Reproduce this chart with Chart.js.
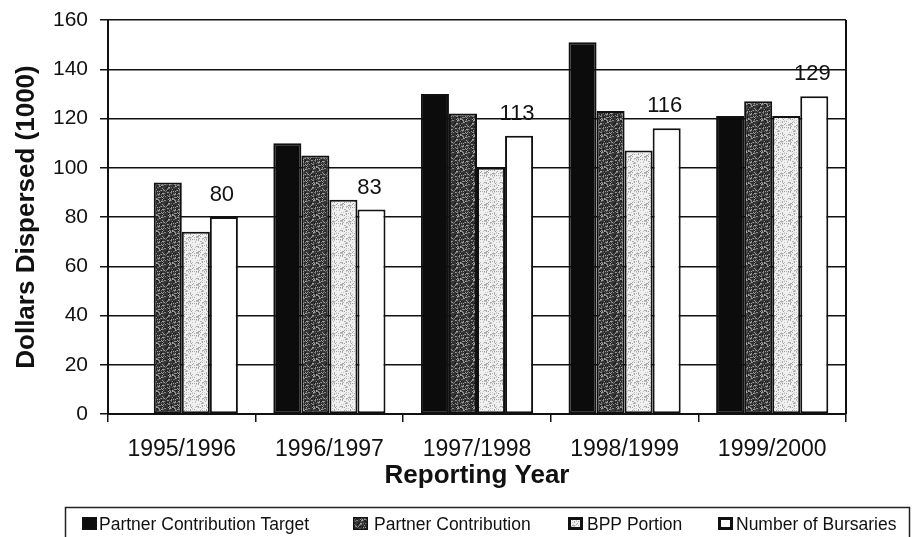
<!DOCTYPE html>
<html>
<head>
<meta charset="utf-8">
<script src="https://cdn.jsdelivr.net/npm/chart.js@4/dist/chart.umd.min.js"></script>
<style>
  html, body { margin: 0; padding: 0; background: #ffffff; }
  #wrap { width: 916px; height: 537px; position: relative; }
</style>
</head>
<body>
<div id="wrap"><canvas id="c" width="916" height="537"></canvas></div>
<script>
// ---- Data ----
const categories = ['1995/1996', '1996/1997', '1997/1998', '1998/1999', '1999/2000'];
const seriesNames = ['Partner Contribution Target', 'Partner Contribution', 'BPP Portion', 'Number of Bursaries'];
const partnerTarget = [null, 110, 130, 151, 121];
const partnerContribution = [94, 105, 122, 123, 127];
const bppPortion = [74, 87, 100, 107, 121];
const numberOfBursaries = [80, 83, 113, 116, 129];
const yTicks = [0, 20, 40, 60, 80, 100, 120, 140, 160];

// ---- Stipple textures (deterministic hash, purely decorative) ----
function makeStipple(base, dots, density, seed) {
  const N = 16;
  const t = document.createElement('canvas');
  t.width = N; t.height = N;
  const g = t.getContext('2d');
  g.fillStyle = base; g.fillRect(0, 0, N, N);
  let s = seed;
  const next = () => { s = (s * 1103515245 + 12345) & 0x7fffffff; return s / 0x7fffffff; };
  for (let y = 0; y < N; y++) for (let x = 0; x < N; x++) {
    const r = next();
    if (r < density) {
      g.fillStyle = dots[Math.floor(next() * dots.length)];
      g.fillRect(x, y, 1, 1);
    }
  }
  return document.createElement('canvas').getContext('2d').createPattern(t, 'repeat');
}
const darkPat = makeStipple('#353535', ['#8a8a8a', '#6a6a6a', '#1a1a1a', '#a0a0a0'], 0.45, 7);
const lightPat = makeStipple('#f0f0f0', ['#b0b0b0', '#c8c8c8', '#a0a0a0'], 0.25, 13);

const fills = ['#0c0c0c', darkPat, lightPat, '#ffffff'];

const FONT = "'Liberation Sans', Arial, sans-serif";

const labelPlugin = {
  id: 'barLabels',
  afterDatasetsDraw(chart) {
    const ctx = chart.ctx;
    const meta = chart.getDatasetMeta(3);
    ctx.save();
    ctx.font = '22px ' + FONT;
    ctx.fillStyle = '#111';
    ctx.textAlign = 'center';
    ctx.textBaseline = 'alphabetic';
    meta.data.forEach((el, i) => {
      ctx.fillText(String(numberOfBursaries[i]), el.x - 2, el.y - 16);
    });
    ctx.restore();
  }
};

const framePlugin = {
  id: 'frame',
  afterDraw(chart) {
    const ctx = chart.ctx;
    const a = chart.chartArea;
    ctx.save();
    ctx.strokeStyle = '#111';
    ctx.lineWidth = 2;
    ctx.beginPath();
    ctx.moveTo(a.right, a.top);
    ctx.lineTo(a.right, a.bottom);
    ctx.stroke();
    // legend box
    ctx.lineWidth = 1.5;
    ctx.strokeStyle = '#222';
    ctx.strokeRect(65.5, 507.5, 844, 40);
    const iconX = [82, 353, 568, 718];
    const textX = [99, 374, 587, 736];
    ctx.font = '17.5px ' + FONT;
    ctx.textBaseline = 'alphabetic';
    ctx.textAlign = 'left';
    chart.data.datasets.forEach((ds, i) => {
      ctx.fillStyle = ds.backgroundColor;
      ctx.fillRect(iconX[i], 517, 15, 13);
      ctx.lineWidth = (i >= 2) ? 3 : 1.5;
      ctx.strokeStyle = '#111';
      const inset = ctx.lineWidth / 2;
      ctx.strokeRect(iconX[i] + inset, 517 + inset, 15 - 2 * inset, 13 - 2 * inset);
      ctx.fillStyle = '#111';
      ctx.fillText(ds.label, textX[i], 530);
    });
    ctx.restore();
  }
};

new Chart(document.getElementById('c'), {
  type: 'bar',
  data: {
    labels: categories,
    datasets: [partnerTarget, partnerContribution, bppPortion, numberOfBursaries].map((d, i) => ({
      label: seriesNames[i],
      data: d,
      backgroundColor: fills[i],
      borderColor: '#111',
      borderWidth: 2,
      borderSkipped: false,
      categoryPercentage: 0.76,
      barPercentage: 1.0
    }))
  },
  options: {
    responsive: false,
    animation: false,
    devicePixelRatio: 1,
    layout: { padding: { top: 20, right: 70, left: 7, bottom: 42 } },
    plugins: {
      legend: { display: false },
      tooltip: { enabled: false }
    },
    scales: {
      x: {
        grid: { display: true, drawOnChartArea: false, color: '#111', lineWidth: 1.5, tickLength: 8, offset: true },
        border: { display: true, color: '#111', width: 2 },
        ticks: { color: '#111', font: { family: FONT, size: 23 }, padding: 14, maxRotation: 0 },
        title: { display: true, text: 'Reporting Year', color: '#111', font: { family: FONT, size: 26, weight: 'bold' } },
        afterFit(s) { s.height = 81; s.paddingLeft = 0; s.paddingRight = 0; }
      },
      y: {
        min: 0, max: 160,
        afterBuildTicks(s) { s.ticks = yTicks.map(v => ({ value: v })); },
        grid: { color: '#111', lineWidth: 1.5, tickLength: 8 },
        border: { display: true, color: '#111', width: 2 },
        ticks: { color: '#111', font: { family: FONT, size: 21 }, padding: 12 },
        title: { display: true, text: 'Dollars Dispersed (1000)', color: '#111', font: { family: FONT, size: 26, weight: 'bold' } },
        afterFit(s) { s.width = 101; s.paddingTop = 0; s.paddingBottom = 0; }
      }
    }
  },
  plugins: [labelPlugin, framePlugin]
});
</script>
</body>
</html>
